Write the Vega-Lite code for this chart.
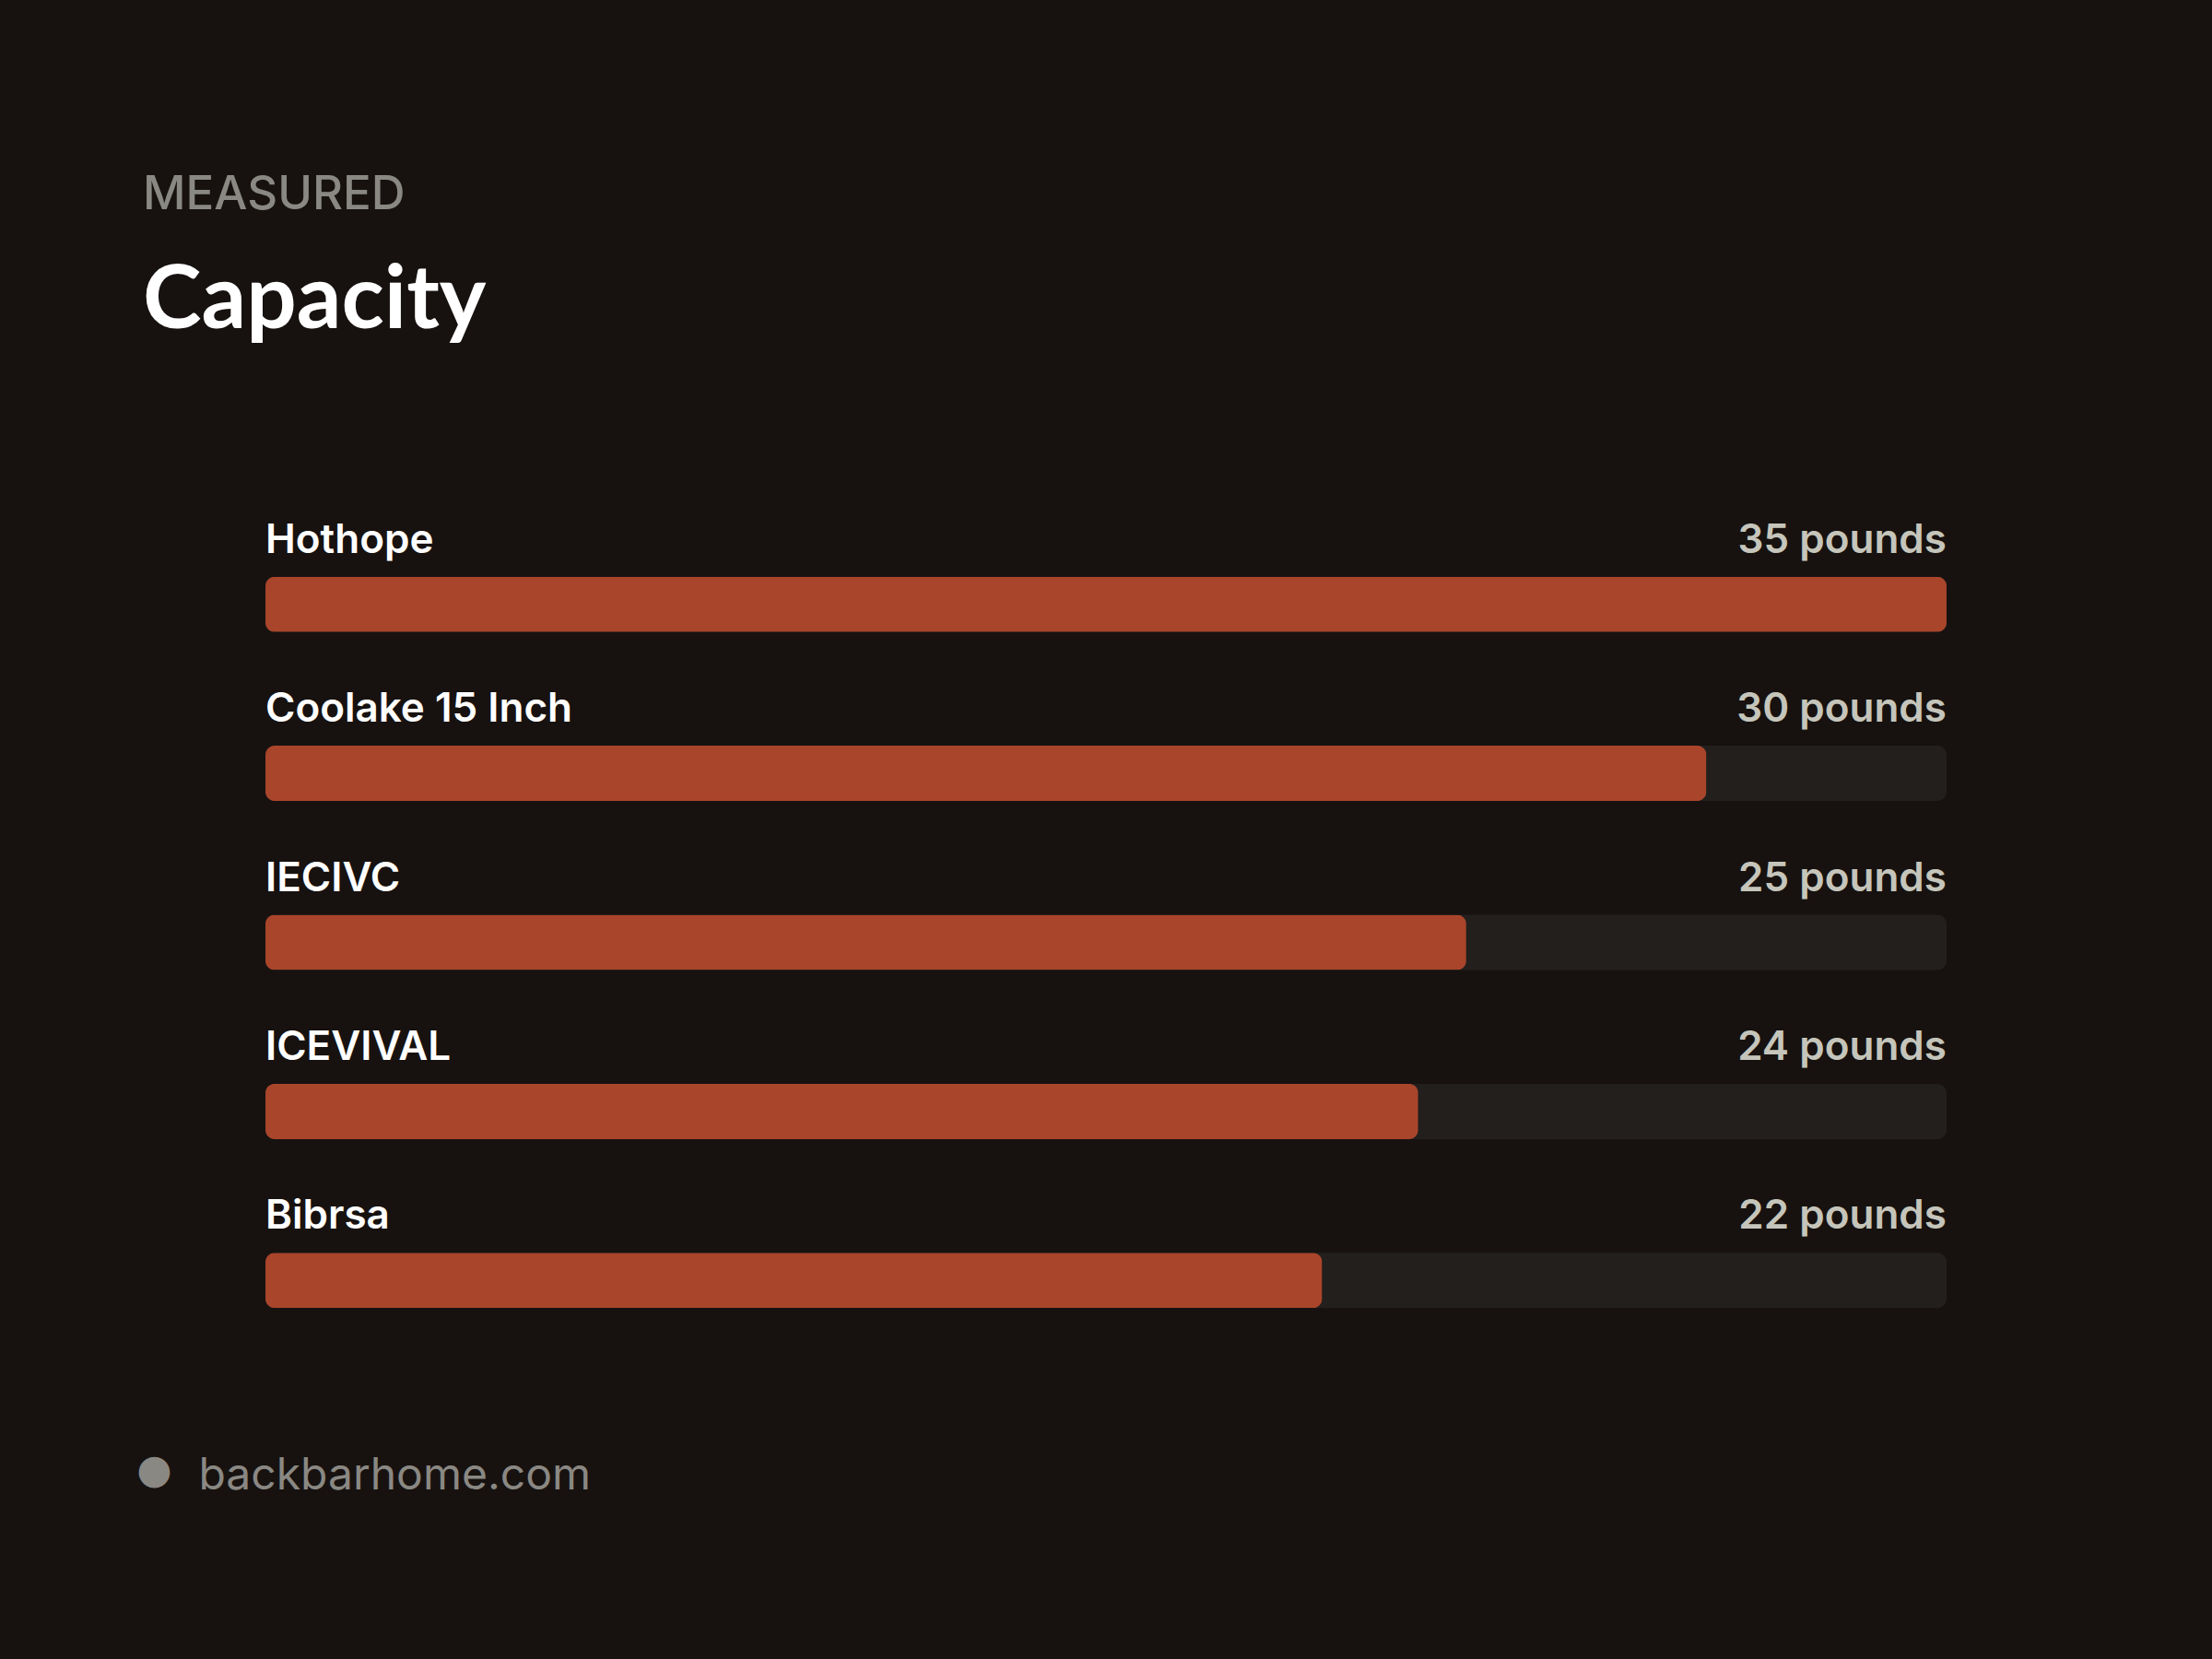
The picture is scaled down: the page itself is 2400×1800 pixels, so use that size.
{
  "$schema": "https://vega.github.io/schema/vega-lite/v6.json",
  "width": 1824,
  "height": 917,
  "autosize": {"type": "none"},
  "padding": {"left": 288, "top": 564, "right": 288, "bottom": 319},
  "background": "#171210",
  "config": {"view": {"stroke": null}},
  "title": {
    "text": "MEASURED",
    "subtitle": "Capacity",
    "anchor": "start",
    "frame": "group",
    "dx": -133,
    "font": "Inter",
    "fontSize": 51,
    "fontWeight": 500,
    "color": "#8a8883",
    "subtitleFont": "Lato",
    "subtitleFontSize": 96,
    "subtitleFontWeight": 700,
    "subtitleColor": "#ffffff",
    "subtitlePadding": 42,
    "offset": 188
  },
  "data": {
    "values": [
      {"name": "Hothope", "value": 35, "label": "35 pounds"},
      {"name": "Coolake 15 Inch", "value": 30, "label": "30 pounds"},
      {"name": "IECIVC", "value": 25, "label": "25 pounds"},
      {"name": "ICEVIVAL", "value": 24, "label": "24 pounds"},
      {"name": "Bibrsa", "value": 22, "label": "22 pounds"}
    ]
  },
  "layer": [
    {
      "mark": {"type": "bar", "color": "#221f1d", "cornerRadius": 10, "height": 60},
      "encoding": {
        "y": {
          "field": "name", "type": "nominal", "sort": null,
          "scale": {"paddingInner": 0, "paddingOuter": 0},
          "axis": {
            "domain": false, "ticks": false, "labels": false, "grid": false,
            "title": "●", "titleFont": "DejaVu Sans", "titleFontSize": 44, "titleFontWeight": 400,
            "titleColor": "#8a8883", "titleAngle": 0, "titleX": -121, "titleY": 1031,
            "titleAlign": "center", "titleBaseline": "middle"
          }
        },
        "x": {
          "datum": 35, "type": "quantitative",
          "scale": {"domain": [0, 35], "nice": false, "zero": true},
          "axis": {
            "domain": false, "ticks": false, "labels": false, "grid": false,
            "title": "backbarhome.com", "titleFont": "Inter", "titleFontSize": 48, "titleFontWeight": 400,
            "titleColor": "#8a8883", "titleX": -73, "titleY": 134, "titleAlign": "left",
            "titleBaseline": "alphabetic", "titleAnchor": "start"
          }
        }
      }
    },
    {
      "mark": {"type": "bar", "color": "#a9452b", "cornerRadius": 10, "height": 60},
      "encoding": {
        "y": {"field": "name", "type": "nominal", "sort": null},
        "x": {"field": "value", "type": "quantitative"}
      }
    },
    {
      "mark": {"type": "text", "font": "Inter", "fontSize": 44, "fontWeight": 600, "color": "#ffffff", "align": "left", "baseline": "alphabetic", "dy": -56},
      "encoding": {
        "y": {"field": "name", "type": "nominal", "sort": null},
        "x": {"datum": 0, "type": "quantitative"},
        "text": {"field": "name"}
      }
    },
    {
      "mark": {"type": "text", "font": "Inter", "fontSize": 44, "fontWeight": 600, "color": "#c5c5bb", "align": "right", "baseline": "alphabetic", "dy": -56},
      "encoding": {
        "y": {"field": "name", "type": "nominal", "sort": null},
        "x": {"datum": 35, "type": "quantitative"},
        "text": {"field": "label"}
      }
    }
  ]
}
